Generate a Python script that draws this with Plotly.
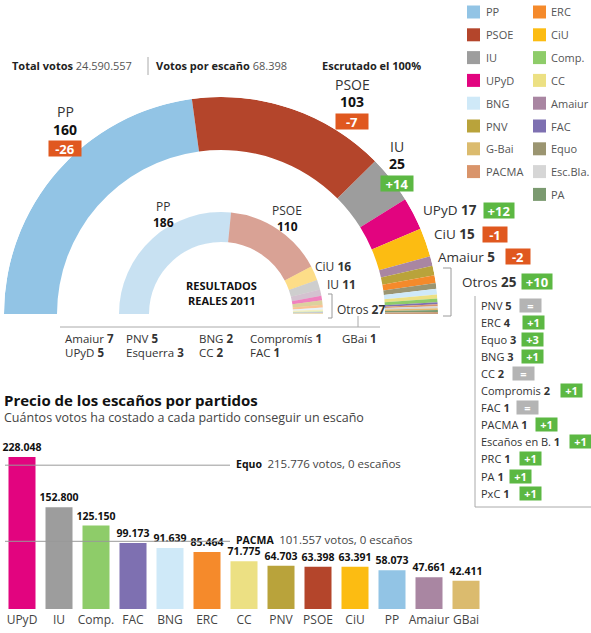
import plotly.graph_objects as go

W, H = 591, 633
FONT = "Open Sans"

# ---------------- data ----------------
# simulated seats (outer ring)
sim_parties = ["PP", "PSOE", "IU", "UPyD", "CiU", "Amaiur", "PNV", "ERC", "Equo", "BNG",
               "CC", "Comp.", "FAC", "PACMA", "Esc.Bla.", "PRC", "PA", "PxC"]
sim_seats = [160, 103, 25, 17, 15, 5, 5, 4, 3, 3, 2, 2, 1, 1, 1, 1, 1, 1]

# real 2011 seats (inner ring)
real_parties = ["PP", "PSOE", "CiU", "IU", "Amaiur", "UPyD", "PNV", "ERC", "BNG", "CC",
                "Comp.", "FAC", "G-Bai"]
real_seats = [186, 110, 16, 11, 7, 5, 5, 3, 2, 2, 1, 1, 1]

# main labels on the outer ring
main_names = ["PP", "PSOE", "IU", "UPyD", "CiU", "Amaiur", "Otros"]
main_seats = [160, 103, 25, 17, 15, 5, 25]
main_change = ["-26", "-7", "+14", "+12", "-1", "-2", "+10"]

# "Otros" breakdown
otros_names = ["PNV", "ERC", "Equo", "BNG", "CC", "Compromis", "FAC", "PACMA",
               "Escaños en B.", "PRC", "PA", "PxC"]
otros_seats = [5, 4, 3, 3, 2, 2, 1, 1, 1, 1, 1, 1]
otros_change = ["=", "+1", "+3", "+1", "=", "+1", "=", "+1", "+1", "+1", "+1", "+1"]

# real results list under the hemicycle
real_list = [["Amaiur", 7], ["UPyD", 5], ["PNV", 5], ["Esquerra", 3], ["BNG", 2],
             ["CC", 2], ["Compromís", 1], ["FAC", 1], ["GBai", 1]]

# price per seat
price_parties = ["UPyD", "IU", "Comp.", "FAC", "BNG", "ERC", "CC", "PNV", "PSOE", "CiU",
                 "PP", "Amaiur", "GBai"]
price_votes = [228048, 152800, 125150, 99173, 91639, 85464, 71775, 64703, 63398, 63391,
               58073, 47661, 42411]
equo_votes = 215776
pacma_votes = 101557

colors = {
    "PP": "#92c4e5", "PSOE": "#b4452b", "IU": "#9d9d9d", "UPyD": "#e2047f",
    "BNG": "#cfe9f8", "PNV": "#b9a33b", "G-Bai": "#dbbb6e", "GBai": "#dbbb6e",
    "PACMA": "#d9946a", "ERC": "#f58a2b", "CiU": "#fcbc12", "Comp.": "#8ecc69",
    "CC": "#ece083", "Amaiur": "#a986a2", "FAC": "#7e70b1", "Equo": "#9b9571",
    "Esc.Bla.": "#d6d6d6", "PA": "#7b9a70", "PRC": "#e3b86f", "PxC": "#c99d7a",
}
legend_col1 = ["PP", "PSOE", "IU", "UPyD", "BNG", "PNV", "G-Bai", "PACMA"]
legend_col2 = ["ERC", "CiU", "Comp.", "CC", "Amaiur", "FAC", "Equo", "Esc.Bla.", "PA"]

GREEN, ORANGE, GREY = "#5cb843", "#e0581f", "#b4b4b4"


def px(x):
    return x / W


def py(y):
    return 1 - y / H


def arc(seats, total=350):
    theta, width, cum = [], [], 0
    for s in seats:
        theta.append((cum + s / 2) * 180 / total)
        width.append(s * 180 / total)
        cum += s
    return theta, width


fig = go.Figure()

# ---------------- hemicycles ----------------
th, wd = arc(sim_seats)
fig.add_trace(go.Barpolar(
    r=[53] * len(sim_seats), base=[164] * len(sim_seats), theta=th, width=wd,
    marker=dict(color=[colors[p] for p in sim_parties], line=dict(width=0)),
    text=sim_parties, hovertemplate="%{text}<extra></extra>",
))
th, wd = arc(real_seats)
fig.add_trace(go.Barpolar(
    r=[30] * len(real_seats), base=[72] * len(real_seats), theta=th, width=wd,
    marker=dict(color=[colors[p] for p in real_parties], line=dict(width=0), opacity=0.5),
    text=real_parties, hovertemplate="%{text}<extra></extra>",
))

# ---------------- price bars ----------------
fig.add_trace(go.Bar(
    x=price_parties, y=price_votes, width=0.73,
    marker=dict(color=[colors[p] for p in price_parties], line=dict(width=0)),
    texttemplate="<b>%{y:,}</b>", textposition="outside", cliponaxis=False,
    constraintext="none",
    textfont=dict(size=10.5, color="#111", family=FONT),
    xaxis="x", yaxis="y", hovertemplate="%{x}: %{y:,}<extra></extra>",
))

ann = []
shapes = []


def label(x, y, text, size=12, color="#222", anchor="left"):
    ann.append(dict(x=px(x), y=py(y), xref="paper", yref="paper", text=text,
                    showarrow=False, xanchor=anchor, yanchor="middle",
                    font=dict(size=size, color=color, family=FONT)))


def badge(x, y, text, w=30, h=14, size=12):
    bg = GREEN if text.startswith("+") else ORANGE if text.startswith("-") else GREY
    ann.append(dict(x=px(x), y=py(y), xref="paper", yref="paper", text="<b>%s</b>" % text,
                    showarrow=False, xanchor="center", yanchor="middle", width=w, height=h,
                    bgcolor=bg, borderpad=0, font=dict(size=size, color="white", family=FONT)))


def line(x0, y0, x1, y1, color="#9a9a9a", width=1):
    shapes.append(dict(type="line", xref="paper", yref="paper", x0=px(x0), y0=py(y0),
                       x1=px(x1), y1=py(y1), line=dict(color=color, width=width)))


# header
label(10, 66, "<b>Total votos</b> <span style='color:#555'>24.590.557</span>", 11)
line(148, 57, 148, 75, "#aaa")
label(154, 66, "<b>Votos por escaño</b> <span style='color:#555'>68.398</span>", 11)
label(320, 66, "<b>Escrutado el 100%</b>", 11)

# legend
for i, p in enumerate(legend_col1):
    y = 12 + i * 22.8
    shapes.append(dict(type="rect", xref="paper", yref="paper", x0=px(467), x1=px(480),
                       y0=py(y + 6.5), y1=py(y - 6.5), fillcolor=colors[p], line=dict(width=0)))
    label(484, y, p, 11, "#555")
for i, p in enumerate(legend_col2):
    y = 12 + i * 22.8
    shapes.append(dict(type="rect", xref="paper", yref="paper", x0=px(533), x1=px(546),
                       y0=py(y + 6.5), y1=py(y - 6.5), fillcolor=colors[p], line=dict(width=0)))
    label(549, y, p, 11, "#555")

# outer ring labels
stack_pos = [(65, 112, 148), (352, 84, 121), (397, 146, 183)]
for (x, y, yb), n, s, c in zip(stack_pos, main_names[:3], main_seats[:3], main_change[:3]):
    label(x, y, n, 14, "#333", "center")
    label(x, y + 17, "<b>%d</b>" % s, 14, "#111", "center")
    badge(x, yb, c, 32, 15, 13)

side_pos = [(479, 210, 499), (477, 234, 495), (497, 257, 518), (519, 282, 537)]
for (xr, y, xb), n, s, c in zip(side_pos, main_names[3:], main_seats[3:], main_change[3:]):
    label(xr, y, "%s <b>%d</b>" % (n, s), 13.5, "#333", "right")
    badge(xb, y, c, 30 if len(c) > 2 else 24, 15, 13)

# outer bracket + Otros list box
line(443, 268, 451, 268)
line(451, 268, 451, 316)
line(443, 316, 451, 316)
line(475, 296, 475, 507, "#aaa")
line(475, 507, 591, 507, "#aaa")

badge_x = [530, 533, 532, 532, 523, 571, 527, 546, 580, 530, 520, 530]
for i, (n, s, c) in enumerate(zip(otros_names, otros_seats, otros_change)):
    y = 305 + i * 17.1
    label(479, y, "%s <b>%d</b>" % (n, s), 11, "#333")
    badge(badge_x[i], y, c, 21, 13, 11)

# inner ring labels
label(163, 206, "PP", 12, "#333", "center")
label(163, 222, "<b>186</b>", 12, "#111", "center")
label(287, 210, "PSOE", 12, "#333", "center")
label(287, 226, "<b>110</b>", 12, "#111", "center")
label(313, 266, "CiU <b>16</b>", 12, "#333")
label(325, 284, "IU <b>11</b>", 12, "#333")
label(335, 309, "Otros <b>27</b>", 12, "#333")
label(221, 286, "<b>RESULTADOS</b>", 11, "#111", "center")
label(221, 300, "<b>REALES 2011</b>", 11, "#111", "center")
line(328, 294, 332, 294)
line(332, 294, 332, 318)
line(328, 318, 332, 318)
line(358, 316, 358, 327, "#aaa")
line(60, 327, 380, 327, "#aaa")

list_x = [63, 63, 124, 124, 197, 197, 248, 248, 340]
list_y = [338, 353, 338, 353, 338, 353, 338, 353, 338]
for (n, s), x, y in zip(real_list, list_x, list_y):
    label(x, y, "%s <b>%d</b>" % (n, s), 11.5, "#333")

# price section
label(2, 400, "<b>Precio de los escaños por partidos</b>", 15, "#111")
label(2, 417, "Cuántos votos ha costado a cada partido conseguir un escaño", 12.5, "#444")

for v, name in [(equo_votes, "Equo"), (pacma_votes, "PACMA")]:
    shapes.append(dict(type="line", xref="paper", yref="y", x0=px(5), x1=px(230),
                       y0=v, y1=v, line=dict(color="#999", width=1)))
    ann.append(dict(x=px(234), y=v, xref="paper", yref="y", showarrow=False,
                    xanchor="left", yanchor="middle", yshift=2,
                    text="<b>%s</b>&nbsp;&nbsp;<span style='font-size:11.5px;color:#444'>%s votos, 0 escaños</span>"
                         % (name, f"{v:,}".replace(",", ".")),
                    font=dict(size=10.5, color="#111", family=FONT)))

fig.update_layout(
    width=W, height=H, margin=dict(l=0, r=0, t=0, b=0),
    paper_bgcolor="white", plot_bgcolor="white", showlegend=False,
    separators=",.", font=dict(family=FONT, color="#333"),
    polar=dict(
        domain=dict(x=[px(4), px(438)], y=[py(314), py(97)]),
        sector=[0, 180], hole=0, bgcolor="white",
        radialaxis=dict(range=[0, 217], visible=False),
        angularaxis=dict(visible=False, rotation=180, direction="clockwise"),
    ),
    xaxis=dict(domain=[px(3.5), px(484.5)], range=[-0.5, 12.5], showgrid=False,
               showline=False, zeroline=False, ticks="", ticklabelstandoff=2,
               tickfont=dict(size=12, color="#444", family=FONT)),
    yaxis=dict(domain=[py(609), py(457)], range=[0, 228048], visible=False,
               showgrid=False, zeroline=False),
    annotations=ann, shapes=shapes,
)

# page body has an 8px default margin; drop it so the figure fills the window
fig.write_html("out.html", config={"displayModeBar": False},
               post_script="document.body.style.margin='0';")
